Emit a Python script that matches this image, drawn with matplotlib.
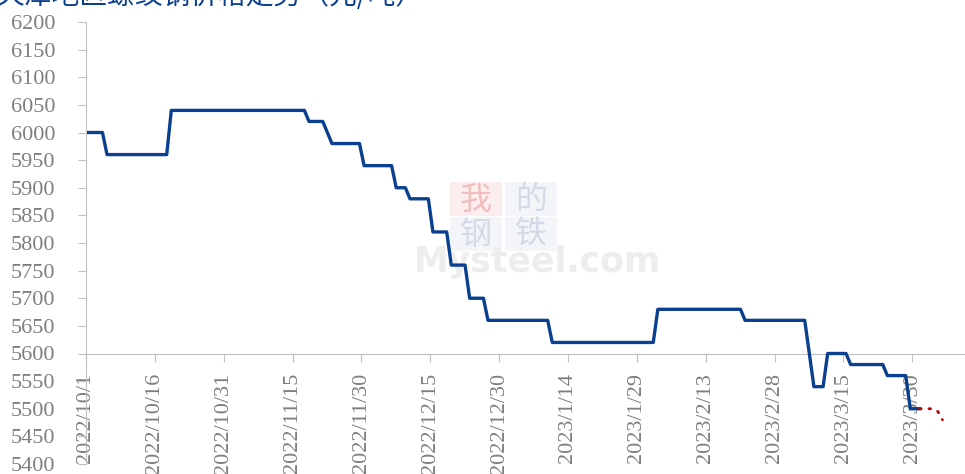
import datetime as dt
import matplotlib
matplotlib.use("Agg")
import matplotlib.pyplot as plt
from matplotlib.patches import Rectangle

# corner points of the price line (date, yuan/ton)
price_dates = ["2022-10-01", "2022-10-04", "2022-10-05", "2022-10-18", "2022-10-19",
               "2022-11-17", "2022-11-18", "2022-11-21", "2022-11-23", "2022-11-29",
               "2022-11-30", "2022-12-06", "2022-12-07", "2022-12-09", "2022-12-10",
               "2022-12-14", "2022-12-15", "2022-12-18", "2022-12-19", "2022-12-22",
               "2022-12-23", "2022-12-26", "2022-12-27", "2023-01-09", "2023-01-10",
               "2023-02-01", "2023-02-02", "2023-02-20", "2023-02-21", "2023-03-06",
               "2023-03-08", "2023-03-10", "2023-03-11", "2023-03-15", "2023-03-16",
               "2023-03-23", "2023-03-24", "2023-03-28", "2023-03-29", "2023-03-31"]
price_values = [6000, 6000, 5960, 5960, 6040,
                6040, 6020, 6020, 5980, 5980,
                5940, 5940, 5900, 5900, 5880,
                5880, 5820, 5820, 5760, 5760,
                5700, 5700, 5660, 5660, 5620,
                5620, 5680, 5680, 5660, 5660,
                5540, 5540, 5600, 5600, 5580,
                5580, 5560, 5560, 5500, 5500]

# dotted red tail
tail_dates = ["2023-03-31", "2023-04-03", "2023-04-04", "2023-04-05"]
tail_values = [5500, 5500, 5495, 5480]

tick_dates = ["2022-10-01", "2022-10-16", "2022-10-31", "2022-11-15", "2022-11-30",
              "2022-12-15", "2022-12-30", "2023-01-14", "2023-01-29", "2023-02-13",
              "2023-02-28", "2023-03-15", "2023-03-30"]
tick_labels = ["2022/10/1", "2022/10/16", "2022/10/31", "2022/11/15", "2022/11/30",
               "2022/12/15", "2022/12/30", "2023/1/14", "2023/1/29", "2023/2/13",
               "2023/2/28", "2023/3/15", "2023/3/30"]
y_ticks = list(range(5400, 6201, 50))

TITLE = "天津地区螺纹钢价格走势（元/吨）"

BLUE = "#0B3F8F"
RED = "#C00000"
GRAY_TXT = "#7F7F7F"
GRAY_AX = "#BFBFBF"

# excel draws daily points a bit right of the tick
OFFSET = dt.timedelta(hours=14)


def to_dates(lst, shift=dt.timedelta(0)):
    return [dt.datetime.strptime(s, "%Y-%m-%d") + shift for s in lst]


W, H = 965, 474
fig = plt.figure(figsize=(W / 100, H / 100), dpi=100)
ax = fig.add_axes([86 / W, 10 / H, 879 / W, 442 / H])

# watermark: 2x2 boxes + site name
boxes = [("我", 450, 182, "#FCEEEE", "#F2BDBD"),
         ("的", 505, 182, "#F3F5F9", "#D3DAE6"),
         ("钢", 450, 217, "#F3F5F9", "#D3DAE6"),
         ("铁", 505, 217, "#F3F5F9", "#D3DAE6")]
for ch, bx, by, bg, fg in boxes:
    ax.add_patch(Rectangle((bx / W, 1 - (by + 34) / H), 52 / W, 34 / H,
                           transform=fig.transFigure, fc=bg, ec="none",
                           clip_on=False, zorder=1))
    ax.text((bx + 26) / W, 1 - (by + 18) / H, ch, transform=fig.transFigure,
            ha="center", va="center", fontsize=23, color=fg,
            family=["Noto Sans CJK SC"], zorder=1)
ax.text(537 / W, 1 - 262 / H, "Mysteel.com", transform=fig.transFigure, ha="center",
        va="center", fontsize=25, fontweight="bold", color="#EDEDED",
        family=["DejaVu Sans"], zorder=1)

ax.plot(to_dates(price_dates, OFFSET), price_values, color=BLUE, lw=2.4, zorder=3,
        solid_joinstyle="round")
ax.plot(to_dates(tail_dates, OFFSET), tail_values, color=RED, lw=2.0, zorder=4,
        linestyle=(0, (0.6, 2.8)), dash_capstyle="round")

ax.set_xlim(dt.datetime(2022, 10, 1), dt.datetime(2023, 4, 10, 12))
ax.set_ylim(5400, 6200)

ax.set_yticks(y_ticks)
ax.set_xticks(to_dates(tick_dates))
ax.set_xticklabels(tick_labels)

for s in ["top", "right"]:
    ax.spines[s].set_visible(False)
ax.spines["left"].set_color(GRAY_AX)
ax.spines["bottom"].set_color(GRAY_AX)
ax.spines["bottom"].set_position(("data", 5600))
ax.spines["bottom"].set_zorder(2)

ax.tick_params(axis="y", length=6, color=GRAY_AX, labelcolor=GRAY_TXT, labelsize=16,
               pad=16, labelfontfamily="Liberation Serif")
ax.tick_params(axis="x", length=6, color=GRAY_AX, labelcolor=GRAY_TXT, labelsize=16,
               pad=8, labelrotation=90, labelfontfamily="Liberation Serif")

fig.text(-0.003, 1 - 4 / H, TITLE, ha="left", va="baseline", fontsize=20,
         color=BLUE, family=["Noto Sans CJK SC"])

fig.savefig("out.png", dpi=100)
